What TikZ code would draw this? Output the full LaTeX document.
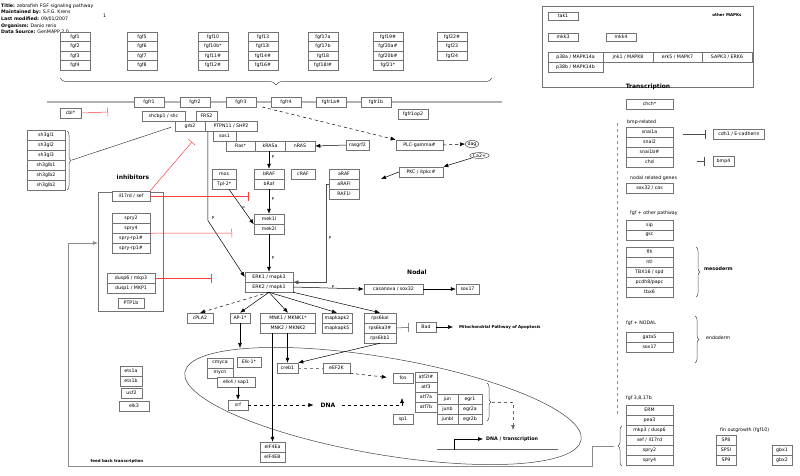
\documentclass[tikz,border=0pt]{standalone}
\usepackage{fontspec}
\setmainfont{DejaVu Sans}
\usepackage{tikz}
\usetikzlibrary{arrows.meta, positioning, decorations.pathreplacing, shapes.geometric}
\colorlet{boxgray}{black!55}
\colorlet{inhred}{red!75!white}
\colorlet{loopgray}{black!45}
\newcommand{\genefont}{\fontsize{4.7}{5.6}\selectfont}
\newcommand{\pfont}{\fontsize{4}{5}\selectfont}
\newcommand{\headfont}{\fontsize{6}{7}\selectfont\bfseries}
\newcommand{\midbold}{\fontsize{4.8}{5.6}\selectfont\bfseries}
\newcommand{\tinybold}{\fontsize{4}{5}\selectfont\bfseries}

\begin{document}
\begin{tikzpicture}[x=1pt, y=-1pt, >={Latex[length=5pt, width=4pt]},
    gene/.style={draw=boxgray, fill=white, line width=0.5pt, font=\genefont, minimum height=10, inner sep=0pt},
    act/.style={->, line width=0.5pt},
    dact/.style={->, dashed, line width=0.5pt},
    inh/.style={-{Bar[width=9pt]}, draw=inhred, line width=0.5pt},
    inhb/.style={-{Bar[width=9pt]}, draw=black!70, line width=0.5pt},
    pmark/.style={font=\pfont, inner sep=0pt},
    lbl/.style={font=\genefont, anchor=west, inner sep=0pt},
    curly/.style={decorate, decoration={brace, amplitude=#1}, line width=0.5pt, draw=black!70}]
    \useasboundingbox (0,0) rectangle (800,475);

    % Header
    \node[lbl] (title) at (1,6) {\textbf{Title:} zebrafish FGF signaling pathway};
    \node[lbl] (maint) at (1,12.5) {\textbf{Maintained by:} S.F.G. Krens};
    \node[lbl] (modif) at (1,19) {\textbf{Last modified:} 09/01/2007};
    \node[lbl] (organ) at (1,26) {\textbf{Organism:} Danio rerio};
    \node[lbl] (dsrc) at (1,32) {\textbf{Data Source:} GenMAPP 2.0};
    \node[lbl] (pgno) at (103,16) {1};

    % Ligands
    \node[gene, minimum width=30, minimum height=9.5] (fgf1) at (75,36.75) {fgf1};
    \node[gene, minimum width=30, minimum height=9.5] (fgf2) at (75,46.25) {fgf2};
    \node[gene, minimum width=30, minimum height=9.5] (fgf3) at (75,55.75) {fgf3};
    \node[gene, minimum width=30, minimum height=9.5] (fgf4) at (75,65.25) {fgf4};
    \node[gene, minimum width=30, minimum height=9.5] (fgf5) at (142,36.75) {fgf5};
    \node[gene, minimum width=30, minimum height=9.5] (fgf6) at (142,46.25) {fgf6};
    \node[gene, minimum width=30, minimum height=9.5] (fgf7) at (142,55.75) {fgf7};
    \node[gene, minimum width=30, minimum height=9.5] (fgf8) at (142,65.25) {fgf8};
    \node[gene, minimum width=30, minimum height=9.5] (fgf10) at (213,36.75) {fgf10};
    \node[gene, minimum width=30, minimum height=9.5] (fgf10b) at (213,46.25) {fgf10b*};
    \node[gene, minimum width=30, minimum height=9.5] (fgf11) at (213,55.75) {fgf11\#};
    \node[gene, minimum width=30, minimum height=9.5] (fgf12) at (213,65.25) {fgf12\#};
    \node[gene, minimum width=30, minimum height=9.5] (fgf13) at (263,36.75) {fgf13};
    \node[gene, minimum width=30, minimum height=9.5] (fgf13l) at (263,46.25) {fgf13l};
    \node[gene, minimum width=30, minimum height=9.5] (fgf14) at (263,55.75) {fgf14\#};
    \node[gene, minimum width=30, minimum height=9.5] (fgf16) at (263,65.25) {fgf16\#};
    \node[gene, minimum width=30, minimum height=9.5] (fgf17a) at (323,36.75) {fgf17a};
    \node[gene, minimum width=30, minimum height=9.5] (fgf17b) at (323,46.25) {fgf17b};
    \node[gene, minimum width=30, minimum height=9.5] (fgf18) at (323,55.75) {fgf18};
    \node[gene, minimum width=30, minimum height=9.5] (fgf18l) at (323,65.25) {fgf18l\#};
    \node[gene, minimum width=30, minimum height=9.5] (fgf19) at (388,36.75) {fgf19\#};
    \node[gene, minimum width=30, minimum height=9.5] (fgf20a) at (388,46.25) {fgf20a\#};
    \node[gene, minimum width=30, minimum height=9.5] (fgf20b) at (388,55.75) {fgf20b\#};
    \node[gene, minimum width=30, minimum height=9.5] (fgf21) at (388,65.25) {fgf21*};
    \node[gene, minimum width=30, minimum height=9.5] (fgf22) at (452,36.75) {fgf22\#};
    \node[gene, minimum width=30, minimum height=9.5] (fgf23) at (452,46.25) {fgf23};
    \node[gene, minimum width=30, minimum height=9.5] (fgf24) at (452,55.75) {fgf24};
    \draw[curly=7] (492,78) -- (60,78);

    % Other MAPKs
    \draw[draw=boxgray, line width=0.5pt] (542,6) rectangle (753,87);
    \node[font=\tinybold] (othlbl) at (727,15) {other MAPKs};
    \node[gene, minimum width=30, minimum height=8] (tak1) at (563,16) {tak1};
    \node[gene, minimum width=30, minimum height=8] (mkk3) at (563,37) {mkk3};
    \node[gene, minimum width=30, minimum height=8] (mkk4) at (621,37) {mkk4};
    \node[gene, minimum width=55] (p38a) at (575.5,57) {p38a / MAPK14a};
    \node[gene, minimum width=55] (p38b) at (575.5,67) {p38b / MAPK14b};
    \node[gene, minimum width=50] (jnk1) at (628,57) {jnk1 / MAPK8};
    \node[gene, minimum width=49] (erk5) at (677.5,57) {erk5 / MAPK7};
    \node[gene, minimum width=50] (sapk3) at (727,57) {SAPK3 / ERK6};

    % Membrane and receptors
    \draw[line width=1.6pt, draw=black!30] (47,102) -- (502,102);
    \node[gene, minimum width=30, minimum height=9.5] (fgfr1) at (149,102) {fgfr1};
    \node[gene, minimum width=30, minimum height=9.5] (fgfr2) at (195,102) {fgfr2};
    \node[gene, minimum width=30, minimum height=9.5] (fgfr3) at (241,102) {fgfr3};
    \node[gene, minimum width=30, minimum height=9.5] (fgfr4) at (286,102) {fgfr4};
    \node[gene, minimum width=30, minimum height=9.5] (fgfr1a) at (331,102) {fgfr1a\#};
    \node[gene, minimum width=30, minimum height=9.5] (fgfr1b) at (376,102) {fgfr1b};
    \node[gene, minimum width=30] (fgfr1op2) at (413,114) {fgfr1op2};
    \node[gene, minimum width=21] (cbl) at (70.5,113) {cbl*};
    \coordinate (cblend) at (108,112);
    \draw[inh] (cbl.east) -- (cblend);

    % Adaptors and Ras
    \node[gene, minimum width=43] (shc) at (163.5,116) {shcbp1 / shc};
    \node[gene, minimum width=21] (frs2) at (206.5,116) {FRS2};
    \node[gene, minimum width=30] (grb2) at (190,126) {grb2};
    \node[gene, minimum width=52] (ptpn) at (231,126) {PTPN11 / SHP2};
    \node[gene, minimum width=23] (sos1) at (224.5,136) {sos1};
    \node[gene, minimum width=29] (ras) at (240.5,146) {Ras*};
    \node[gene, minimum width=30] (kras) at (270,146) {kRASa};
    \node[gene, minimum width=30] (nras) at (300,146) {nRAS};
    \node[gene, minimum width=23] (rasgrf2) at (357.5,145) {rasgrf2};
    \draw[act] (rasgrf2.west) -- (nras.east);

    % sh3gl
    \node[gene, minimum width=38] (sh3a) at (46,135) {sh3gl1};
    \node[gene, minimum width=38] (sh3b) at (46,145) {sh3gl2};
    \node[gene, minimum width=38] (sh3c) at (46,155) {sh3gl3};
    \node[gene, minimum width=38] (sh3d) at (46,165) {sh3glb1};
    \node[gene, minimum width=38] (sh3e) at (46,175) {sh3glb2};
    \node[gene, minimum width=38] (sh3f) at (46,185) {sh3glb2};
    \draw[curly=4] (67,131) -- (67,190);
    \coordinate (sh3tip) at (72,160);
    \draw[line width=0.5pt, draw=black!75, shorten >=4pt] (sh3tip) -- (grb2.west);

    % PLC branch
    \node[gene, minimum width=47] (plc) at (419.5,145) {PLC-gamma\#};
    \node[draw=black!70, ellipse, line width=0.5pt, inner sep=0.3pt, font=\genefont] (dag) at (472,144) {dag};
    \node[draw=black!70, ellipse, line width=0.5pt, inner sep=0.3pt, font=\genefont] (ca) at (479.5,155.5) {Ca2+};
    \node[gene, minimum width=44] (pkc) at (421,172) {PKC / itpkc\#};
    \coordinate (pkcend) at (381,179);
    \draw[dact] ([xshift=6]fgfr3.south east) -- (plc.north west);
    \draw[dact] (plc.east) -- (dag.west);
    \draw[act] (ca.south west) -- (pkc.north east);
    \draw[act] (pkc.west) -- (pkcend);

    % RAF level
    \node[gene, minimum width=24] (mos) at (224,174) {mos};
    \node[gene, minimum width=24] (tpl2) at (224,184) {Tpl-2*};
    \node[gene, minimum width=30] (braf1) at (269,174) {bRAF};
    \node[gene, minimum width=30] (braf2) at (269,184) {bRaf};
    \node[gene, minimum width=24] (craf) at (303,174) {cRAF};
    \node[gene, minimum width=30] (araf1) at (344,174) {aRAF};
    \node[gene, minimum width=30] (araf2) at (344,184) {aRAFl};
    \node[gene, minimum width=30] (raf1l) at (344,194) {RAF1l};
    \draw[act, line width=0.6pt] (kras.south -| braf1.north) -- (braf1.north);
    \node[pmark] (p1) at (273,157) {P};

    % MEK and ERK
    \node[gene, minimum width=30] (mek1) at (269,219) {mek1l};
    \node[gene, minimum width=30] (mek2) at (269,229) {mek2l};
    \node[gene, minimum width=48] (erk1) at (269,277) {ERK1 / mapk3};
    \node[gene, minimum width=48] (erk2) at (269,287) {ERK2 / mapk1};
    \draw[act, line width=0.6pt] (braf2.south) -- (mek1.north);
    \node[pmark] (p2) at (273,199) {P};
    \draw[act] ([xshift=5]tpl2.south) -- (mek1.south west);
    \node[pmark] (p3) at (243.5,208) {P};
    \draw[act] ([xshift=3]ptpn.south west) -- ++(0,89) -- (erk1.west);
    \node[pmark] (p4) at (213,218) {P};
    \draw[act] (mek2.south) -- (erk1.north);
    \node[pmark] (p5) at (273,258) {P};
    \draw[act, draw=black!70] (araf2.west) -- ++(-3,0) |- (erk1.south east);
    \node[pmark] (p6) at (330,238) {P};

    % Inhibitors
    \node[draw=boxgray, line width=0.5pt, minimum width=65, minimum height=119, inner sep=0pt] (inhibbox) at (130.5,251.5) {};
    \node[font=\headfont] (inhiblbl) at (133,177) {inhibitors};
    \node[gene, minimum width=38] (sef) at (131,196) {il17rd / sef};
    \node[gene, minimum width=38] (spry2) at (131,218) {spry2};
    \node[gene, minimum width=38] (spry4) at (131,228) {spry4};
    \node[gene, minimum width=38] (spryr1) at (131,238) {spry-rp1\#};
    \node[gene, minimum width=38] (spryr2) at (131,248) {spry-rp1\#};
    \node[gene, minimum width=48] (dusp6) at (131,278) {dusp6 / mkp3};
    \node[gene, minimum width=48] (dusp1) at (131,288) {dusp1 / MKP1};
    \node[gene, minimum width=26] (ptp1b) at (131,303) {PTP1b};
    \coordinate (sefend) at (248,196);
    \coordinate (grbinh) at (192,142);
    \coordinate (spryend) at (232,233);
    \coordinate (duspend) at (211,278);
    \draw[inh] (sef.east) -- (sefend);
    \draw[inh] (sef.north east) -- (grbinh);
    \draw[inh] (spry4.south east) -- (spryend);
    \draw[inh] (dusp6.east) -- (duspend);

    % Nodal
    \node[font=\headfont] (nodal) at (417,272) {Nodal};
    \node[gene, minimum width=59] (casanova) at (393.5,289) {casanova / sox32};
    \node[gene, minimum width=23] (sox17n) at (467.5,289) {sox17};
    \draw[act] (erk2.east) -- (casanova.west);
    \node[pmark] (p7) at (333,287) {P};
    \draw[act] (casanova.east) -- (sox17n.west);

    % ERK targets
    \node[gene, minimum width=26] (cpla2) at (200,318) {cPLA2};
    \node[gene, minimum width=20] (ap1) at (240,318) {AP-1*};
    \node[gene, minimum width=55] (mnk1) at (288,318) {MNK1 / MKNK1*};
    \node[gene, minimum width=55] (mnk2) at (288,328) {MNK2 / MKNK2};
    \node[gene, minimum width=30] (mapk2) at (337,318) {mapkapk2};
    \node[gene, minimum width=30] (mapk5) at (337,328) {mapkapk5};
    \node[gene, minimum width=32] (rps1) at (380,318) {rps6kal};
    \node[gene, minimum width=32] (rps2) at (380,328) {rps6ka3\#};
    \node[gene, minimum width=32] (rps3) at (380,338) {rps6kb1};
    \node[gene, minimum width=20] (bad) at (426,327) {Bad};
    \node[font=\tinybold, anchor=west, inner sep=0pt] (mito) at (459,327) {Mitochondrial Pathway of Apoptosis};
    \draw[dact] (erk2.south) -- (cpla2.north);
    \draw[act] (erk2.south) -- (ap1.north);
    \draw[act] (erk2.south) -- (mnk1.north);
    \draw[act] (erk2.south) -- (mapk2.north);
    \draw[act] (erk2.south east) -- (rps1.north);
    \draw[inhb, shorten >=7pt] (rps2.east) -- (bad.west);
    \draw[act, shorten >=6pt] (bad.east) -- (mito.west);

    % Nucleus
    \draw[line width=0.5pt, draw=black!75, rotate around={-9.7:(383,406)}] (383,406) ellipse [x radius=201, y radius=48.5];
    \coordinate (ap1end) at (240,348);
    \draw[act] (ap1.south) -- (ap1end);
    \node[gene, minimum width=26] (cmyca) at (220,363) {cmyca};
    \node[gene, minimum width=26] (mycn) at (220,373) {mycn};
    \node[gene, minimum width=24] (elk1) at (249,362) {Elk-1*};
    \node[gene, minimum width=38] (elk4) at (236,382) {elk4 / sap1};
    \node[gene, minimum width=20] (srf) at (238,405) {srf};
    \node[font=\headfont, inner sep=0pt] (dna) at (328,405) {DNA};
    \coordinate (dnaup) at (402,398);
    \draw[act] (srf.north |- elk4.south) -- (srf.north);
    \draw[dact, shorten >=7pt] (srf.east) -- (dna.west);
    \draw[dact, shorten <=6pt] (dna.east) -| (dnaup);
    \node[gene, minimum width=21] (creb1) at (287.5,368) {creb1};
    \node[gene, minimum width=27] (eef2k) at (336.5,368) {eEF2K};
    \draw[act] (creb1.north |- mnk2.south) -- (creb1.north);
    \draw[act] (rps3.south) -- (creb1.north east);
    \draw[dashed, line width=0.4pt, draw=black!50] (creb1.east) -- (eef2k.west);
    \node[gene, minimum width=20] (fos) at (403,378) {fos};
    \draw[dact, shorten >=6pt] (eef2k.south east) -- (fos.west);
    \node[gene, minimum width=22] (atf2) at (426,377) {atf2l\#};
    \node[gene, minimum width=22] (atf3) at (426,387) {atf3};
    \node[gene, minimum width=22] (atf7a) at (426,397) {atf7a};
    \node[gene, minimum width=22] (atf7b) at (426,407) {atf7b};
    \node[gene, minimum width=21] (jun) at (447.5,399) {jun};
    \node[gene, minimum width=21] (junb) at (447.5,409) {junb};
    \node[gene, minimum width=21] (junbl) at (447.5,419) {junbl};
    \node[gene, minimum width=24] (egr1) at (470,399) {egr1};
    \node[gene, minimum width=24] (egr2a) at (470,409) {egr2a};
    \node[gene, minimum width=24] (egr2b) at (470,419) {egr2b};
    \node[gene, minimum width=20] (sp1) at (403,419) {sp1};
    \draw[curly=4] (487,383) -- (487,421);
    \coordinate (juntip) at (492,402);
    \coordinate (dnatx) at (513,430);
    \draw[dact, draw=black!60] (juntip) -| (dnatx);
    \coordinate (prom) at (454,449.5);
    \node[font=\midbold, anchor=west, inner sep=0pt] (dnatxt) at (486,439) {DNA / transcription};
    \draw[line width=0.5pt, draw=black!60] (437,449.5) -- (558,449.5);
    \draw[act] (prom) |- ([xshift=-3]dnatxt.west);
    \node[gene, minimum width=25] (eif1) at (272.5,447) {eIF4Ea};
    \node[gene, minimum width=25] (eif2) at (272.5,457) {eIF4EB};
    \draw[act] (eif1.north |- mnk2.south) -- (eif1.north);

    % Feed back
    \node[gene, minimum width=22] (ets1a) at (131,371) {ets1a};
    \node[gene, minimum width=22] (ets1b) at (131,381) {ets1b};
    \node[gene, minimum width=21] (usf2) at (131.5,393) {usf2};
    \node[gene, minimum width=30] (elk3) at (134,406) {elk3};
    \node[font=\tinybold] (fbtxt) at (117,461) {feed back transcription};

    % Transcription
    \node[font=\headfont] (trlbl) at (648,87) {Transcription};
    \draw[dashed, line width=0.4pt, draw=black!45] (617,123) -- (617,417);
    \node[gene, minimum width=47] (chch) at (649.5,104) {chch*};
    \node[lbl] (bmplbl) at (627,122) {bmp-related};
    \node[gene, minimum width=47] (snai1) at (649.5,132) {snai1a};
    \node[gene, minimum width=47] (snai2) at (649.5,142) {snai2};
    \node[gene, minimum width=47] (snai1b) at (649.5,152) {snai1b\#};
    \node[gene, minimum width=47] (chd) at (649.5,162) {chd};
    \node[gene, minimum width=51] (cdh1) at (739,134) {cdh1 / E-cadherin};
    \node[gene, minimum width=21] (bmp4) at (723.5,161) {bmp4};
    \draw[inhb, shorten <=10pt, shorten >=8pt] (snai1.east |- cdh1.west) -- (cdh1.west);
    \draw[inhb, shorten <=24pt, shorten >=8pt] (chd.east |- bmp4.west) -- (bmp4.west);
    \node[lbl] (nodlbl) at (630,178) {nodal related genes};
    \node[gene, minimum width=47] (sox32) at (649.5,188) {sox32 / cas};
    \node[lbl] (othlbl2) at (630,213) {fgf + other pathway};
    \node[gene, minimum width=47] (sip) at (649.5,225) {sip};
    \node[gene, minimum width=47] (gsc) at (649.5,235) {gsc};
    \node[gene, minimum width=47] (flh) at (649.5,252) {flh};
    \node[gene, minimum width=47] (ntl) at (649.5,262) {ntl};
    \node[gene, minimum width=47] (tbx16) at (649.5,272) {TBX16 / spd};
    \node[gene, minimum width=47] (pcdh8) at (649.5,282) {pcdh8/papc};
    \node[gene, minimum width=47] (tbx6) at (649.5,292) {tbx6};
    \draw[curly=4] (696,247) -- (696,297);
    \node[font=\midbold, anchor=west, inner sep=0pt] (meso) at (704,269) {mesoderm};
    \node[lbl] (nodallbl) at (626,323) {fgf + NODAL};
    \node[gene, minimum width=47] (gata5) at (649.5,337) {gata5};
    \node[gene, minimum width=47] (sox17) at (649.5,347) {sox17};
    \draw[curly=4] (695,316) -- (695,363);
    \node[lbl] (endo) at (706,338) {endoderm};
    \node[lbl] (fgf38lbl) at (626,398) {fgf 3,8,17b};
    \node[gene, minimum width=47] (erm) at (649.5,410) {ERM};
    \node[gene, minimum width=47] (pea3) at (649.5,420) {pea3};
    \node[gene, minimum width=47] (mkp3) at (649.5,430) {mkp3 / dusp6};
    \node[gene, minimum width=47] (sef2) at (649.5,440) {sef / il17rd};
    \node[gene, minimum width=47] (spry2b) at (649.5,450) {spry2};
    \node[gene, minimum width=47] (spry4b) at (649.5,460) {spry4};
    \draw[curly=4] (622,466) -- (622,426);
    \coordinate (ermtip) at (614,446);
    \node[lbl] (finlbl) at (720,430) {fin outgrowth (fgf10)};
    \node[gene, minimum width=20] (sp8) at (726,440) {SP8};
    \node[gene, minimum width=20] (sp5l) at (726,450) {SP5l};
    \node[gene, minimum width=20] (sp9) at (726,460) {SP9};
    \node[gene, minimum width=20] (gbx1) at (782,450) {gbx1};
    \node[gene, minimum width=20] (gbx2) at (782,460) {gbx2};

    % Feed back loop
    \draw[act, draw=loopgray] (ermtip) -- (592,446) |- (68,466) |- ([yshift=8.5]inhibbox.west);
\end{tikzpicture}
\end{document}
